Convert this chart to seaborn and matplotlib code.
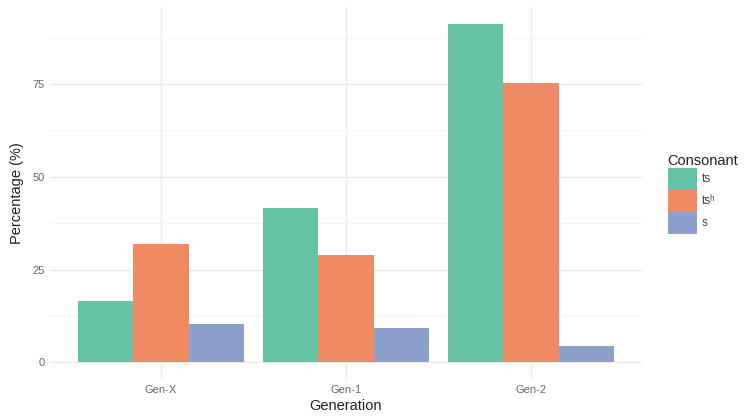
import pandas as pd
import matplotlib.pyplot as plt
import seaborn as sns
from matplotlib.ticker import MultipleLocator
from matplotlib.patches import Patch

# values
generations = ['Gen-X', 'Gen-1', 'Gen-2']
consonants = ['ts', 'tsʰ', 's']
ts_values = [16.6, 41.7, 91.1]
tsh_values = [31.9, 28.8, 75.3]
s_values = [10.3, 9.3, 4.3]
palette = ['#66c2a5', '#ef8a62', '#8da0cb']

df = pd.DataFrame({
    'Generation': generations * 3,
    'Consonant': [consonants[0]] * 3 + [consonants[1]] * 3 + [consonants[2]] * 3,
    'Percentage': ts_values + tsh_values + s_values,
})

sns.set_style('white')
plt.rcParams['font.family'] = ['Liberation Sans', 'DejaVu Sans']

fig = plt.figure(figsize=(7.44, 4.19), dpi=100)
ax = fig.add_axes([50 / 744, 1 - 379.2 / 419, 592 / 744, 371.9 / 419])

sns.barplot(data=df, x='Generation', y='Percentage', hue='Consonant',
            order=generations, hue_order=consonants, palette=palette,
            saturation=1, width=0.9, linewidth=0, errorbar=None,
            legend=False, ax=ax, zorder=3)

ax.set_xlim(-0.6, 2.6)
ax.set_ylim(-0.05 * 91.1, 1.05 * 91.1)
ax.yaxis.set_major_locator(MultipleLocator(25))
ax.yaxis.set_minor_locator(MultipleLocator(12.5))
ax.grid(which='major', axis='both', color='#ebebeb', linewidth=1.0, zorder=0)
ax.grid(which='minor', axis='y', color='#f3f3f3', linewidth=0.6, zorder=0)
ax.set_axisbelow(True)
for sp in ax.spines.values():
    sp.set_visible(False)
ax.tick_params(axis='both', which='both', length=0, labelsize=8,
               labelcolor='#666666', pad=4)
ax.set_xlabel('Generation', fontsize=10.5, color='#222222', labelpad=3)
ax.set_ylabel('Percentage (%)', fontsize=10.5, color='#222222', labelpad=6)

handles = [Patch(facecolor=c, edgecolor='none') for c in palette]
leg = fig.legend(handles, consonants, title='Consonant',
                 loc='upper left', bbox_to_anchor=(657 / 744, 1 - 143 / 419),
                 frameon=False, handlelength=2.5, handleheight=2.5,
                 handletextpad=0.4, labelspacing=0.0, fontsize=8.5,
                 title_fontsize=10.5, alignment='left')
for t in leg.get_texts():
    t.set_color('#444444')
leg.get_title().set_color('#222222')

fig.savefig('out.png', dpi=100)
